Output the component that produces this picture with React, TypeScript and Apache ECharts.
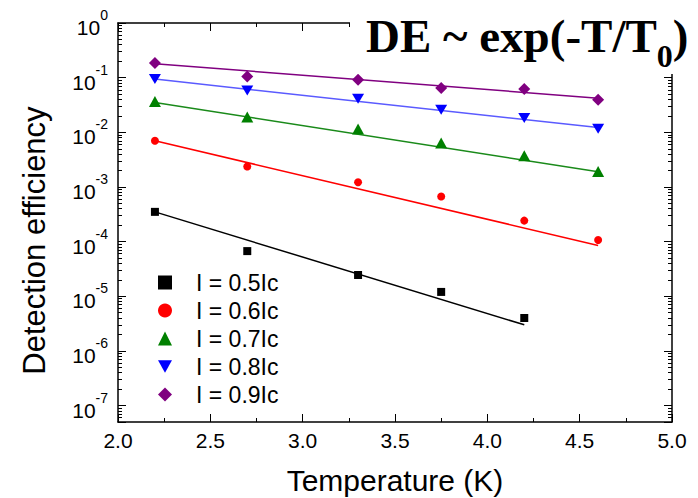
import React, { useEffect, useRef } from 'react';
import * as echarts from 'echarts';

// ---- data ----
const seriesNames = ['I = 0.5Ic', 'I = 0.6Ic', 'I = 0.7Ic', 'I = 0.8Ic', 'I = 0.9Ic'];
const temps05 = [2.2, 2.7, 3.3, 3.75, 4.2];
const temps = [2.2, 2.7, 3.3, 3.75, 4.2, 4.6];
const de05 = [3.5e-4, 6.7e-5, 2.45e-5, 1.2e-5, 4.0e-6];
const de06 = [7.0e-3, 2.37e-3, 1.22e-3, 6.7e-4, 2.42e-4, 1.07e-4];
const de07 = [0.0366, 0.019, 0.0115, 0.00634, 0.00371, 0.00191];
const de08 = [0.094, 0.058, 0.041, 0.0258, 0.0182, 0.0116];
const de09 = [0.185, 0.105, 0.092, 0.0645, 0.0618, 0.0394];
// fitted exponential lines (end points)
const fitT05 = [2.2, 4.2];
const fitT = [2.2, 4.6];
const fit05 = [3.5e-4, 3.0e-6];
const fit06 = [7.0e-3, 8.5e-5];
const fit07 = [0.035, 1.9e-3];
const fit08 = [0.094, 0.0122];
const fit09 = [0.18, 0.042];

const yMin = 5e-8;
const yMax = 1;
const xMin = 2;
const xMax = 5;

const SANS = 'Liberation Sans, Arial, sans-serif';
const SERIF = 'Liberation Serif, Times New Roman, serif';

const INV_TRIANGLE = 'path://M0,0 L10,0 L5,9 Z';

// log-minor tick positions (2..9 x 10^d), expressed in log10 space
const minorLogTicks: number[] = [];
for (let d = -8; d <= -1; d++) {
  for (let k = 2; k <= 9; k++) {
    const v = k * Math.pow(10, d);
    if (v >= yMin && v < yMax) minorLogTicks.push(Math.log10(v));
  }
}

export default function App() {
  const ref = useRef<HTMLDivElement>(null);
  useEffect(() => {
    if (!ref.current) return;
    const chart = echarts.init(ref.current, undefined, { renderer: 'svg' });

    const groups = [
      { name: seriesNames[0], t: temps05, v: de05, ft: fitT05, fv: fit05, color: '#000000', line: '#000000', symbol: 'rect', size: 8 },
      { name: seriesNames[1], t: temps, v: de06, ft: fitT, fv: fit06, color: '#ff0000', line: '#ff0000', symbol: 'circle', size: 8 },
      { name: seriesNames[2], t: temps, v: de07, ft: fitT, fv: fit07, color: '#008000', line: '#1a8a1a', symbol: 'triangle', size: [12, 11] },
      { name: seriesNames[3], t: temps, v: de08, ft: fitT, fv: fit08, color: '#0000ff', line: '#5a5aff', symbol: INV_TRIANGLE, size: [12, 10] },
      { name: seriesNames[4], t: temps, v: de09, ft: fitT, fv: fit09, color: '#800080', line: '#800080', symbol: 'diamond', size: [12, 12] },
    ];

    const series: any[] = [];
    groups.forEach((g, gi) => {
      series.push({
        name: 'fit' + gi,
        type: 'line',
        xAxisIndex: 0,
        yAxisIndex: 0,
        symbol: 'none',
        silent: true,
        lineStyle: { color: g.line, width: 1.5 },
        data: g.ft.map((t, i) => [t, g.fv[i]]),
        z: 2,
      });
    });
    groups.forEach((g) => {
      series.push({
        name: g.name,
        type: 'scatter',
        xAxisIndex: 0,
        yAxisIndex: 0,
        symbol: g.symbol,
        symbolSize: g.size,
        itemStyle: { color: g.color, opacity: 1 },
        data: g.t.map((t, i) => [t, g.v[i]]),
        z: 3,
      });
    });

    const axisLine = { show: true, onZero: false, lineStyle: { color: '#000', width: 1.5 } };
    const majorTick = { show: true, inside: true, length: 8, lineStyle: { color: '#000', width: 1 } };
    const minorTickVal = { show: true, inside: true, length: 4, lineStyle: { color: '#000', width: 1 }, customValues: minorLogTicks };

    const yLabelFormatter = (v: number) => {
      const l = Math.log10(v);
      const e = Math.round(l);
      if (Math.abs(l - e) > 1e-6) return '';
      return `{b|10}{s|${e}}`;
    };

    const option: any = {
      animation: false,
      backgroundColor: '#ffffff',
      title: {
        text: '{a|DE ~ exp(-T/T}{s|0}{a|)}',
        left: 350,
        top: 0,
        padding: [12, 20, 2, 16],
        backgroundColor: '#ffffff',
        z: 20,
        textStyle: {
          rich: {
            a: { fontFamily: SERIF, fontWeight: 'bold', fontSize: 47, lineHeight: 60, verticalAlign: 'top', color: '#000' },
            s: { fontFamily: SERIF, fontWeight: 'bold', fontSize: 32, lineHeight: 24, verticalAlign: 'bottom', color: '#000' },
          },
        },
      },
      legend: {
        data: seriesNames,
        orient: 'vertical',
        left: 153,
        top: 266,
        itemWidth: 14,
        itemHeight: 14,
        itemGap: 5,
        selectedMode: false,
        textStyle: { fontFamily: SANS, fontSize: 23, color: '#000', lineHeight: 20, padding: [0, 0, 0, 19] },
      },
      grid: { left: 118, right: 26, top: 23, bottom: 76, containLabel: false, outerBoundsMode: 'none' },
      xAxis: [
        {
          type: 'value',
          position: 'bottom',
          min: xMin,
          max: xMax,
          interval: 0.5,
          name: 'Temperature (K)',
          nameLocation: 'middle',
          nameGap: 45,
          nameTextStyle: { fontFamily: SANS, fontSize: 30, lineHeight: 26, color: '#000' },
          axisLine,
          axisTick: majorTick,
          minorTick: { show: true, splitNumber: 2, length: 4, lineStyle: { color: '#000', width: 1 } },
          splitLine: { show: false },
          minorSplitLine: { show: false },
          axisLabel: { fontFamily: SANS, fontSize: 21, color: '#000', margin: 8, formatter: (v: number) => v.toFixed(1) },
        },
        {
          type: 'value',
          position: 'top',
          min: xMin,
          max: xMax,
          interval: 0.5,
          axisLine,
          axisTick: majorTick,
          minorTick: { show: true, splitNumber: 2, length: 4, lineStyle: { color: '#000', width: 1 } },
          splitLine: { show: false },
          axisLabel: { show: false },
        },
      ],
      yAxis: [
        {
          type: 'log',
          logBase: 10,
          position: 'left',
          min: yMin,
          max: yMax,
          splitNumber: 8,
          name: 'Detection efficiency',
          nameLocation: 'middle',
          nameRotate: 90,
          nameGap: 68,
          nameTextStyle: { fontFamily: SANS, fontSize: 31, color: '#000', padding: [0, 36, 0, 0] },
          axisLine,
          axisTick: majorTick,
          splitLine: { show: false },
          axisLabel: {
            margin: 10,
            color: '#000',
            formatter: yLabelFormatter,
            rich: {
              b: { fontFamily: SANS, fontSize: 21, lineHeight: 30, verticalAlign: 'bottom', color: '#000' },
              s: { fontFamily: SANS, fontSize: 14, lineHeight: 13, verticalAlign: 'top', color: '#000' },
            },
          },
        },
        {
          type: 'value',
          position: 'left',
          min: Math.log10(yMin),
          max: 0,
          axisLine: { show: false, onZero: false },
          axisTick: minorTickVal,
          splitLine: { show: false },
          axisLabel: { show: false },
        },
        {
          type: 'log',
          logBase: 10,
          position: 'right',
          min: yMin,
          max: yMax,
          splitNumber: 8,
          axisLine,
          axisTick: majorTick,
          splitLine: { show: false },
          axisLabel: { show: false },
        },
        {
          type: 'value',
          position: 'right',
          min: Math.log10(yMin),
          max: 0,
          axisLine: { show: false, onZero: false },
          axisTick: minorTickVal,
          splitLine: { show: false },
          axisLabel: { show: false },
        },
      ],
      series,
    };

    chart.setOption(option);
    return () => chart.dispose();
  }, []);

  return <div ref={ref} style={{ position: 'fixed', left: 0, top: 0, width: 698, height: 498, background: '#fff' }} />;
}
